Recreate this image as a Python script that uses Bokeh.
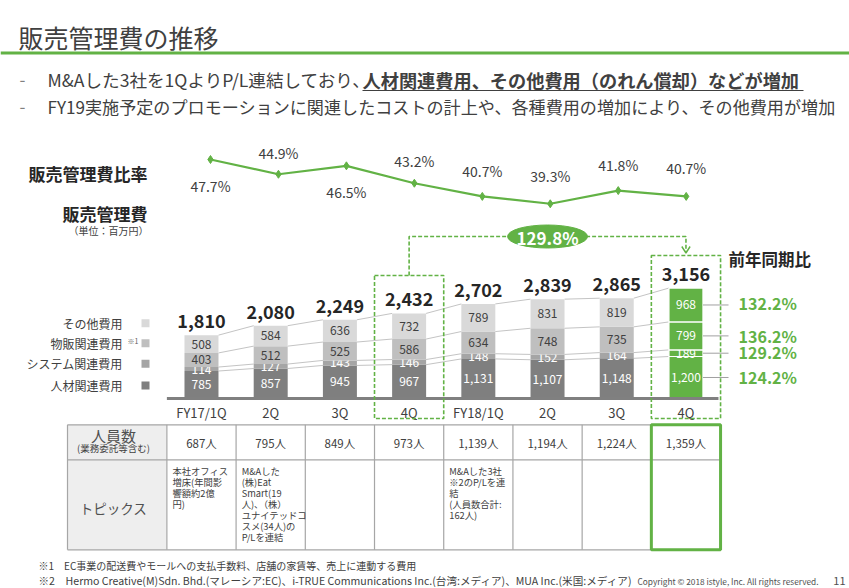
from bokeh.plotting import figure
from bokeh.models import Range1d
from bokeh.core.properties import value
from bokeh.embed import file_html
from bokeh.resources import INLINE

# ---------------- data ----------------
quarters = ["FY17/1Q", "2Q", "3Q", "4Q", "FY18/1Q", "2Q", "3Q", "4Q"]
personnel = [785, 857, 945, 967, 1131, 1107, 1148, 1200]   # 人材関連費用
system_cost = [114, 127, 143, 146, 148, 152, 164, 189]     # システム関連費用
merch = [403, 512, 525, 586, 634, 748, 735, 799]           # 物販関連費用
other = [508, 584, 636, 732, 789, 831, 819, 968]           # その他費用
totals = [1810, 2080, 2249, 2432, 2702, 2839, 2865, 3156]
ratio = [47.7, 44.9, 46.5, 43.2, 40.7, 39.3, 41.8, 40.7]   # 販売管理費比率 (%)
series_names = ["人材関連費用", "システム関連費用", "物販関連費用", "その他費用"]
yoy = ["124.2%", "129.2%", "136.2%", "132.2%"]             # 前年同期比 by series
yoy_total = "129.8%"
headcount = ["687人", "795人", "849人", "973人", "1,139人", "1,194人", "1,224人", "1,359人"]
topics = [
    ["本社オフィス", "増床(年間影", "響額約2億", "円)"],
    ["M&Aした", "(株)Eat", "Smart(19", "人)、（株）", "ユナイテッドコ", "スメ(34人)の", "P/Lを連結"],
    [], [],
    ["M&Aした3社", "※2のP/Lを連", "結", "(人員数合計:", " 162人)"],
    [], [], [],
]

# ---------------- style ----------------
FONT = value("Noto Sans CJK JP")
GREEN = "#62B245"
DARK = "#404040"
GRAYS = ["#7f7f7f", "#a5a5a5", "#bfbfbf", "#d9d9d9"]
LBL_COL = ["white", "white", DARK, DARK]

W, H = 849, 588
p = figure(width=W, height=H, output_backend="svg", toolbar_location=None,
           x_range=Range1d(-2.904, 9.363), y_range=Range1d(-5428.6, 11371.4),
           x_axis_location=None, y_axis_location=None,
           min_border=0, min_border_left=0, min_border_right=0,
           min_border_top=0, min_border_bottom=0, outline_line_color=None)
p.xgrid.visible = False
p.ygrid.visible = False
p.background_fill_color = "white"
p.border_fill_color = "white"
# page-layout ranges (image pixel coordinates) and ratio-line ranges
p.extra_x_ranges = {"px": Range1d(0, 849), "rx": Range1d(-3.090, 9.403)}
p.extra_y_ranges = {"py": Range1d(588, 0), "ry": Range1d(-33.70, 77.87)}


def txt(x, y, s, size, color=DARK, bold=False, align="left", baseline="middle",
        xr="px", yr="py", **kw):
    if not isinstance(x, list):
        x, y, s = [x], [y], [s]
    p.text(x=x, y=y, text=s, text_font=FONT, text_font_size=f"{size}px",
           text_color=color, text_font_style="bold" if bold else "normal",
           text_align=align, text_baseline=baseline,
           x_range_name=xr, y_range_name=yr, **kw)


n = len(quarters)
xs = list(range(n))
half = 0.2456

# ---------------- header ----------------
txt(18, 36, "販売管理費の推移", 25)
p.segment(x0=[0], y0=[52.5], x1=[849], y1=[52.5], line_color=GREEN, line_width=3,
          x_range_name="px", y_range_name="py")
txt(19, 79, "-", 17, color="#808080")
txt(19, 106, "-", 17, color="#808080")
txt(47, 79, "M&Aした3社を1QよりP/L連結しており、", 17.6)
txt(362, 79, "人材関連費用、その他費用（のれん償却）などが増加", 18.2, bold=True)
p.segment(x0=[362], y0=[90], x1=[803], y1=[90], line_color=DARK, line_width=1,
          x_range_name="px", y_range_name="py")
txt(47, 106, "FY19実施予定のプロモーションに関連したコストの計上や、各種費用の増加により、その他費用が増加", 17.1)

# ---------------- left titles & legend ----------------
txt(147, 173, "販売管理費比率", 17, color="#262626", bold=True, align="right")
txt(147, 213, "販売管理費", 17, color="#262626", bold=True, align="right")
txt(148, 230, "（単位：百万円）", 10, align="right")
leg_y = [385, 363.3, 342.7, 322.7]
for k in range(4):
    txt(122, leg_y[k], series_names[k], 12, align="right")
    p.quad(left=[141], right=[149], top=[leg_y[k] - 4], bottom=[leg_y[k] + 4],
           fill_color=GRAYS[k], line_color=None, x_range_name="px", y_range_name="py")
txt(127, 340, "※1", 7, color="#606060")

# ---------------- stacked bars ----------------
series = [personnel, system_cost, merch, other]
cum = [[0] * n]
for s in series:
    cum.append([a + b for a, b in zip(cum[-1], s)])

# connector lines between bars
for lvl in range(1, 5):
    p.segment(x0=[i + half for i in range(n - 1)], y0=cum[lvl][:-1],
              x1=[i + 1 - half for i in range(n - 1)], y1=cum[lvl][1:],
              line_color="#c4c4c4", line_width=1)

for k, s in enumerate(series):
    fills = [GRAYS[k]] * (n - 1) + [GREEN]
    lines = [None] * (n - 1) + ["white"]
    p.vbar(x=xs, width=2 * half, bottom=cum[k], top=cum[k + 1],
           fill_color=fills, line_color=lines, line_width=1.2)
    mids = [(a + b) / 2 for a, b in zip(cum[k], cum[k + 1])]
    cols = [LBL_COL[k]] * (n - 1) + ["white"]
    p.text(x=xs, y=mids, text=[f"{v:,}" for v in s], text_font=FONT,
           text_font_size="12px", text_color=cols, text_align="center",
           text_baseline="middle")

# baseline
p.segment(x0=[-0.5], y0=[0], x1=[7.47], y1=[0], line_color="#808080", line_width=3)

# totals
p.text(x=xs, y=totals, text=[f"{v:,}" for v in totals], text_font=FONT,
       text_font_size="18px", text_font_style="bold", text_color="#262626",
       text_align="center", text_baseline="middle", y_offset=-14)

# category labels
txt(xs, [411.5] * n, quarters, 13, align="center", xr="default")

# YoY leader lines + labels for last bar
last = n - 1
for k, s in enumerate(series):
    mid = (cum[k][last] + cum[k + 1][last]) / 2
    p.segment(x0=[last + half], y0=[mid], x1=[7.615], y1=[mid],
              line_color="#a0a0a0", line_width=1)
    p.text(x=[7.76], y=[mid], text=[yoy[k]], text_font=FONT, text_font_size="16px",
           text_font_style="bold", text_color=GREEN, text_baseline="middle",
           y_offset=[-1.5 if k in (1, 3) else 0])
txt(728, 258, "前年同期比", 16.5, color="#262626", bold=True)

# ---------------- ratio line ----------------
p.line(x=xs, y=ratio, line_color=GREEN, line_width=2.2,
       x_range_name="rx", y_range_name="ry")
p.scatter(x=xs, y=ratio, marker="diamond", size=8, fill_color=GREEN,
          line_color=GREEN, x_range_name="rx", y_range_name="ry")
ratio_dy = [26, -21, 26, -22, -25, -28, -26, -28]
p.text(x=xs, y=ratio, text=[f"{v:.1f}%" for v in ratio], text_font=FONT,
       text_font_size="14px", text_color=DARK, text_align="center",
       text_baseline="middle", y_offset=ratio_dy,
       x_range_name="rx", y_range_name="ry")

# ---------------- dashed highlight boxes & bracket ----------------
p.quad(left=[2.5, 6.5], right=[3.5, 7.5], top=[275, 255], bottom=[418, 418],
       fill_color=None, line_color=GREEN, line_width=1.6, line_dash="4 2",
       y_range_name="py")
p.line(x=[3, 3, 7, 7], y=[275, 236, 236, 252], line_color=GREEN, line_width=1.6,
       line_dash="4 2", y_range_name="py")
p.line(x=[6.94, 7, 7.06], y=[246, 252.5, 246], line_color=GREEN, line_width=1.4,
       y_range_name="py")
p.ellipse(x=[5], y=[236], width=[80], height=[23], width_units="screen",
          height_units="screen", fill_color=GREEN, line_color=GREEN,
          y_range_name="py")
txt(5, 236.5, yoy_total, 17, color="white", bold=True, align="center", xr="default")

# ---------------- table ----------------
t_top, t_mid, t_bot = 424.3, 459.3, 549.3
p.quad(left=[67], right=[166], top=[t_top], bottom=[t_bot], fill_color="#eeeeee",
       line_color=None, x_range_name="px", y_range_name="py")
p.segment(x0=[67] * 3, y0=[t_top, t_mid, t_bot], x1=[719.6] * 3, y1=[t_top, t_mid, t_bot],
          line_color="#a6a6a6", line_width=1.2, x_range_name="px", y_range_name="py")
p.segment(x0=[67], y0=[t_top], x1=[67], y1=[t_bot], line_color="#a6a6a6",
          line_width=1.2, x_range_name="px", y_range_name="py")
p.segment(x0=[i - 0.5 for i in range(n + 1)], y0=[t_top] * (n + 1),
          x1=[i - 0.5 for i in range(n + 1)], y1=[t_bot] * (n + 1),
          line_color="#a6a6a6", line_width=1.2, y_range_name="py")
p.quad(left=[6.5], right=[7.5], top=[t_top], bottom=[t_bot], fill_color=None,
       line_color=GREEN, line_width=3, y_range_name="py")
txt(113, 435, "人員数", 15, align="center", color="#505050")
txt(113, 447.5, "(業務委託等含む)", 9.5, align="center")
txt(113, 507, "トピックス", 13.5, align="center", color="#505050")
txt(xs, [442] * n, headcount, 11.5, align="center", xr="default")
for i, lines in enumerate(topics):
    for j, line in enumerate(lines):
        txt(i - 0.42, 470 + 11 * j, line, 9.3, xr="default")

# ---------------- footer ----------------
txt(38, 565, "※1\u3000EC事業の配送費やモールへの支払手数料、店舗の家賃等、売上に連動する費用", 10)
txt(38, 580,
    "※2\u3000Hermo Creative(M)Sdn. Bhd.(マレーシア:EC)、i-TRUE Communications Inc.(台湾:メディア)、MUA Inc.(米国:メディア)",
    10.6)
txt(637, 580, "Copyright © 2018 istyle, Inc. All rights reserved.", 8.3, color="#505050")
txt(845, 580, "11", 11, align="right", color="#505050")

open("out.html", "w").write(file_html(p, INLINE))
